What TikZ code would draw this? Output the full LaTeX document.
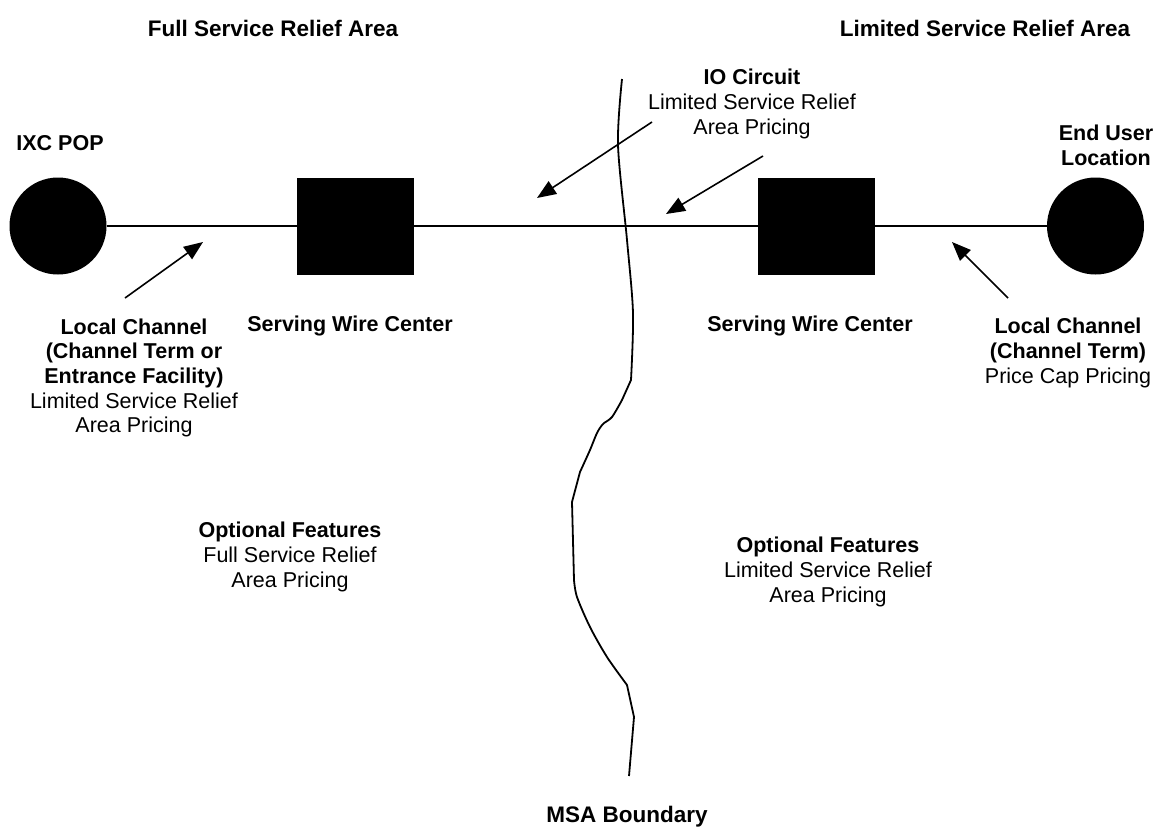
\documentclass[tikz,border=0pt]{standalone}
\usepackage{fontspec}
\setmainfont{Liberation Sans}
\usetikzlibrary{arrows.meta}

\tikzset{
  site/.style={circle,fill=black,minimum size=97pt,inner sep=0pt},
  wirectr/.style={rectangle,fill=black,minimum width=117pt,minimum height=97pt,inner sep=0pt},
  lbl/.style={align=center,inner sep=0pt,font=\fontsize{21.5}{24.7}\selectfont},
  heading/.style={inner sep=0pt,font=\fontsize{22.5}{26}\selectfont\bfseries},
  circuit/.style={line width=1.8pt},
  pointer/.style={line width=1.6pt,-{Triangle[length=19pt,width=15pt]}}
}

\begin{document}
\begin{tikzpicture}[x=1pt,y=-1pt]
    \useasboundingbox (0,0) rectangle (1157,836);
    % area headings
    \node[heading] (fsra) at (273,28) {Full Service Relief Area};
    \node[heading] (lsra) at (985,28) {Limited Service Relief Area};
    % the circuit
    \node[site] (ixc) at (58,226) {};
    \node[wirectr] (swcA) at (355.5,226) {};
    \node[wirectr] (swcB) at (816.5,226) {};
    \node[site] (eul) at (1095.5,226) {};
    \draw[circuit] (ixc) -- (swcA) -- (swcB) -- (eul);
    % MSA boundary, drawn by hand
    \draw[circuit] plot[smooth] coordinates {(622,79) (618,145) (627,240) (633,313) (631,380)}
      -- plot[smooth] coordinates {(622,400) (612,417) (603,424) (597,433) (590,450) (580,472)}
      -- (572,502) -- plot[smooth] coordinates {(574,580) (577,597) (590,627) (607,657) (627,685)}
      -- (634,717) -- (629,776);
    % labels
    \node[lbl] (ixclbl) at (60,143) {\textbf{IXC POP}};
    \node[lbl] (eullbl) at (1106,145) {\textbf{End User}\\\textbf{Location}};
    \node[lbl] (iolbl) at (752,104) {\textbf{IO Circuit}\\Limited Service Relief\\Area Pricing};
    \node[lbl] (swclblA) at (350,326) {\textbf{Serving Wire Center}};
    \node[lbl] (swclblB) at (810,326) {\textbf{Serving Wire Center}};
    \node[lbl] (lcA) at (134,378) {\textbf{Local Channel}\\\textbf{(Channel Term or}\\
      \textbf{Entrance Facility)}\\Limited Service Relief\\Area Pricing};
    \node[lbl] (lcB) at (1068,353) {\textbf{Local Channel}\\\textbf{(Channel Term)}\\Price Cap Pricing};
    \node[lbl] (optA) at (290,557) {\textbf{Optional Features}\\Full Service Relief\\Area Pricing};
    \node[lbl] (optB) at (828,572) {\textbf{Optional Features}\\Limited Service Relief\\Area Pricing};
    \node[heading] (msa) at (627,817) {MSA Boundary};
    % pointers
    \coordinate (lcAtail) at (125,298);  \coordinate (lcAtip) at (203,242);
    \coordinate (ioAtail) at (652,122);  \coordinate (ioAtip) at (537,198);
    \coordinate (ioBtail) at (763,156);  \coordinate (ioBtip) at (666,214);
    \coordinate (lcBtail) at (1008,298); \coordinate (lcBtip) at (952,242);
    \foreach \a in {lcA,ioA,ioB,lcB}{
      \draw[pointer] (\a tail) -- (\a tip);
    }
\end{tikzpicture}
\end{document}
